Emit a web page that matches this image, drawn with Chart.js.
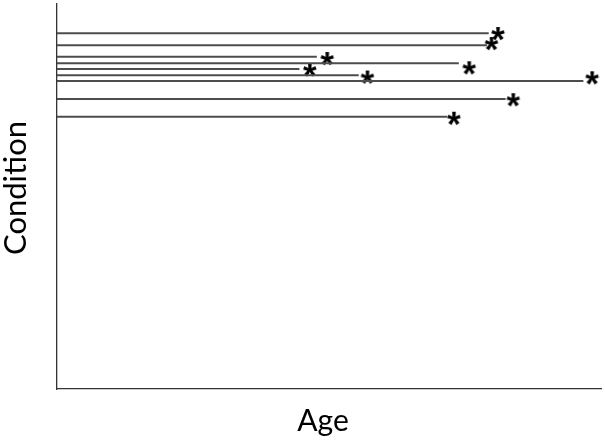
<!DOCTYPE html>
<html>
<head>
<meta charset="UTF-8">
<title>Condition vs Age</title>
<script src="https://cdn.jsdelivr.net/npm/chart.js"></script>
<style>
    body { margin: 0; background: #fff; }
    #wrap { width: 605px; height: 442px; }
</style>
</head>
<body>
<div id="wrap"><canvas id="chart" width="605" height="442"></canvas></div>
<script>
// one row per case: condition level, age where the line stops, asterisk position
const condition = [92.4, 89.3, 86.3, 84.6, 83.1, 81.5, 80.0, 75.3, 70.7];
const lineEnd   = [79.3, 79.0, 47.7, 73.8, 44.5, 55.4, 96.7, 82.4, 71.7];
const markAge   = [81.1, 79.9, 49.7, 75.8, 46.5, 57.1, 98.4, 83.9, 73.0];
const markCond  = [92.2, 89.6, 85.7, 83.3, 82.8, 80.9, 80.7, 75.0, 70.2];
const xTitle = 'Age';
const yTitle = 'Condition';

// asterisk glyph used as point style
function asteriskImage() {
    const c = document.createElement('canvas');
    c.width = 26; c.height = 26;
    const g = c.getContext('2d');
    g.font = 'bold 35px "Liberation Sans"';
    g.fillStyle = '#000';
    const m = g.measureText('*');
    const w = m.actualBoundingBoxRight + m.actualBoundingBoxLeft;
    const h = m.actualBoundingBoxAscent + m.actualBoundingBoxDescent;
    g.fillText('*', 13 - w / 2 + m.actualBoundingBoxLeft, 13 - h / 2 + m.actualBoundingBoxAscent);
    return c;
}

const titles = {
    id: 'titles',
    afterDraw(chart) {
        const ctx = chart.ctx;
        ctx.save();
        ctx.fillStyle = '#000';
        ctx.textAlign = 'center';
        ctx.textBaseline = 'alphabetic';
        ctx.font = '30px Lato';
        ctx.fillText(xTitle, 323, 431);
        ctx.font = '31px Lato';
        ctx.translate(26, 188);
        ctx.rotate(-Math.PI / 2);
        ctx.fillText(yTitle, 0, 0);
        ctx.restore();
    }
};

const rows = condition.map((c, i) => ({ x: lineEnd[i], y: c }));
const marks = markAge.map((a, i) => ({ x: a, y: markCond[i] }));

new Chart(document.getElementById('chart'), {
    type: 'bar',
    data: {
        datasets: [{
            data: rows,
            backgroundColor: '#4d4d4d',
            borderWidth: 0,
            barThickness: 1.3
        }, {
            type: 'scatter',
            data: marks,
            pointStyle: asteriskImage(),
            pointRadius: 6
        }]
    },
    options: {
        indexAxis: 'y',
        responsive: false,
        animation: false,
        layout: { autoPadding: false, padding: { left: 49, top: 4, right: 4, bottom: 45 } },
        plugins: { legend: { display: false }, tooltip: { enabled: false } },
        scales: {
            x: {
                type: 'linear', min: 0, max: 100, offset: false,
                ticks: { display: false },
                grid: { display: false },
                border: { color: '#333', width: 1.3 }
            },
            y: {
                type: 'linear', min: 0, max: 100, offset: false,
                ticks: { display: false },
                grid: { display: false },
                border: { color: '#333', width: 1.3 }
            }
        }
    },
    plugins: [titles]
});
</script>
</body>
</html>
